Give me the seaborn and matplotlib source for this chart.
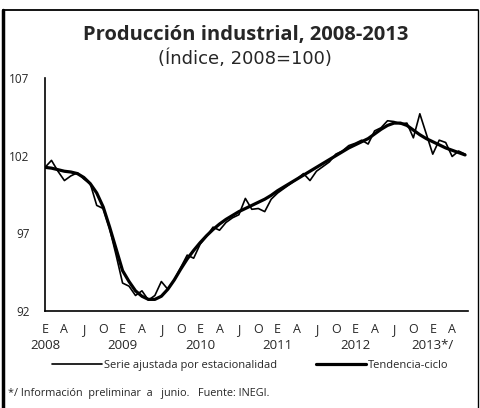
import numpy as np
import pandas as pd
import seaborn as sns
import matplotlib.pyplot as plt
from matplotlib.lines import Line2D

# meses desde enero 2008 hasta junio 2013
meses = list(range(66))

serie = [101.25, 101.7, 101.0, 100.4, 100.7, 100.9, 100.5, 100.2, 98.8, 98.6,
         97.3, 95.6, 93.8, 93.6, 93.0, 93.3, 92.7, 93.0, 93.9, 93.4,
         94.0, 94.8, 95.6, 95.4, 96.3, 96.8, 97.4, 97.2, 97.7, 98.0,
         98.2, 99.25, 98.55, 98.6, 98.4, 99.2, 99.6, 99.9, 100.2, 100.5,
         100.85, 100.4, 101.0, 101.3, 101.6, 102.1, 102.3, 102.65, 102.8, 103.0,
         102.75, 103.6, 103.8, 104.25, 104.2, 104.05, 104.1, 103.15, 104.7, 103.4,
         102.1, 103.0, 102.85, 101.95, 102.3, 102.1]

tendencia = [101.25, 101.2, 101.1, 101.0, 100.95, 100.85, 100.6, 100.2, 99.6, 98.7,
             97.4, 96.0, 94.6, 93.9, 93.3, 92.95, 92.75, 92.75, 92.95, 93.4,
             94.0, 94.7, 95.35, 95.9, 96.4, 96.85, 97.25, 97.6, 97.9, 98.15,
             98.4, 98.6, 98.8, 99.0, 99.2, 99.45, 99.75, 100.0, 100.25, 100.5,
             100.75, 101.0, 101.25, 101.5, 101.75, 102.0, 102.25, 102.5, 102.7, 102.9,
             103.1, 103.4, 103.7, 103.95, 104.1, 104.1, 103.95, 103.65, 103.35, 103.1,
             102.9, 102.7, 102.5, 102.35, 102.2, 102.05]

letras = ["E", "A", "J", "O"] * 5 + ["E", "A"]
anios = ["2008", "2009", "2010", "2011", "2012", "2013*/"]

sns.set_style("white")
plt.rcParams['font.family'] = ['Open Sans', 'DejaVu Sans']

fig = plt.figure(figsize=(4.81, 4.08), dpi=100)
ax = fig.add_axes([0.0936, 0.2377, 0.88, 0.571])

sns.lineplot(x=meses, y=serie, color='black', linewidth=1.2, ax=ax,
             label='Serie ajustada por estacionalidad')
sns.lineplot(x=meses, y=tendencia, color='black', linewidth=2.3, ax=ax,
             label='Tendencia-ciclo')

ax.set_xlim(0, 65.5)
ax.set_ylim(92, 107)
ax.set_yticks([92, 97, 102, 107])
ax.set_xticks(range(0, 64, 3))
ax.set_xticklabels(letras)
ax.tick_params(axis='x', direction='inout', length=7, width=1, pad=5,
               labelsize=9, color='black')
ax.tick_params(axis='y', direction='in', length=4, width=1, pad=11,
               labelsize=8.5, color='black')
for s in ['top', 'right']:
    ax.spines[s].set_visible(False)
for s in ['left', 'bottom']:
    ax.spines[s].set_color('black')
    ax.spines[s].set_linewidth(1.2)

for i, a in enumerate(anios):
    ax.text(i * 12, -0.15, a, transform=ax.get_xaxis_transform(),
            ha='center', va='center', fontsize=9.5)

ax.legend_.remove()
h, l = ax.get_legend_handles_labels()
fig.legend(h, l, loc='center', bbox_to_anchor=(0.52, 0.105), ncol=2,
           frameon=False, fontsize=8, handlelength=4.5, columnspacing=3.5,
           handletextpad=0.2)

fig.text(0.51, 0.914, "Producción industrial, 2008-2013", ha='center',
         va='center', fontsize=14.5, fontweight='bold')
fig.text(0.51, 0.855, "(Índice, 2008=100)", ha='center', va='center',
         fontsize=13, family=['DejaVu Sans'])
fig.text(0.017, 0.035, "*/ Información  preliminar  a   junio.   Fuente: INEGI.",
         ha='left', va='center', fontsize=7.8)

# marco
fig.add_artist(Line2D([0.006, 0.006], [0.0, 0.975], color='black', linewidth=2.5))
fig.add_artist(Line2D([0.006, 0.994], [0.975, 0.975], color='black', linewidth=1.3))
fig.add_artist(Line2D([0.994, 0.994], [0.0, 0.975], color='black', linewidth=1.0))

fig.savefig("out.png", dpi=100)
